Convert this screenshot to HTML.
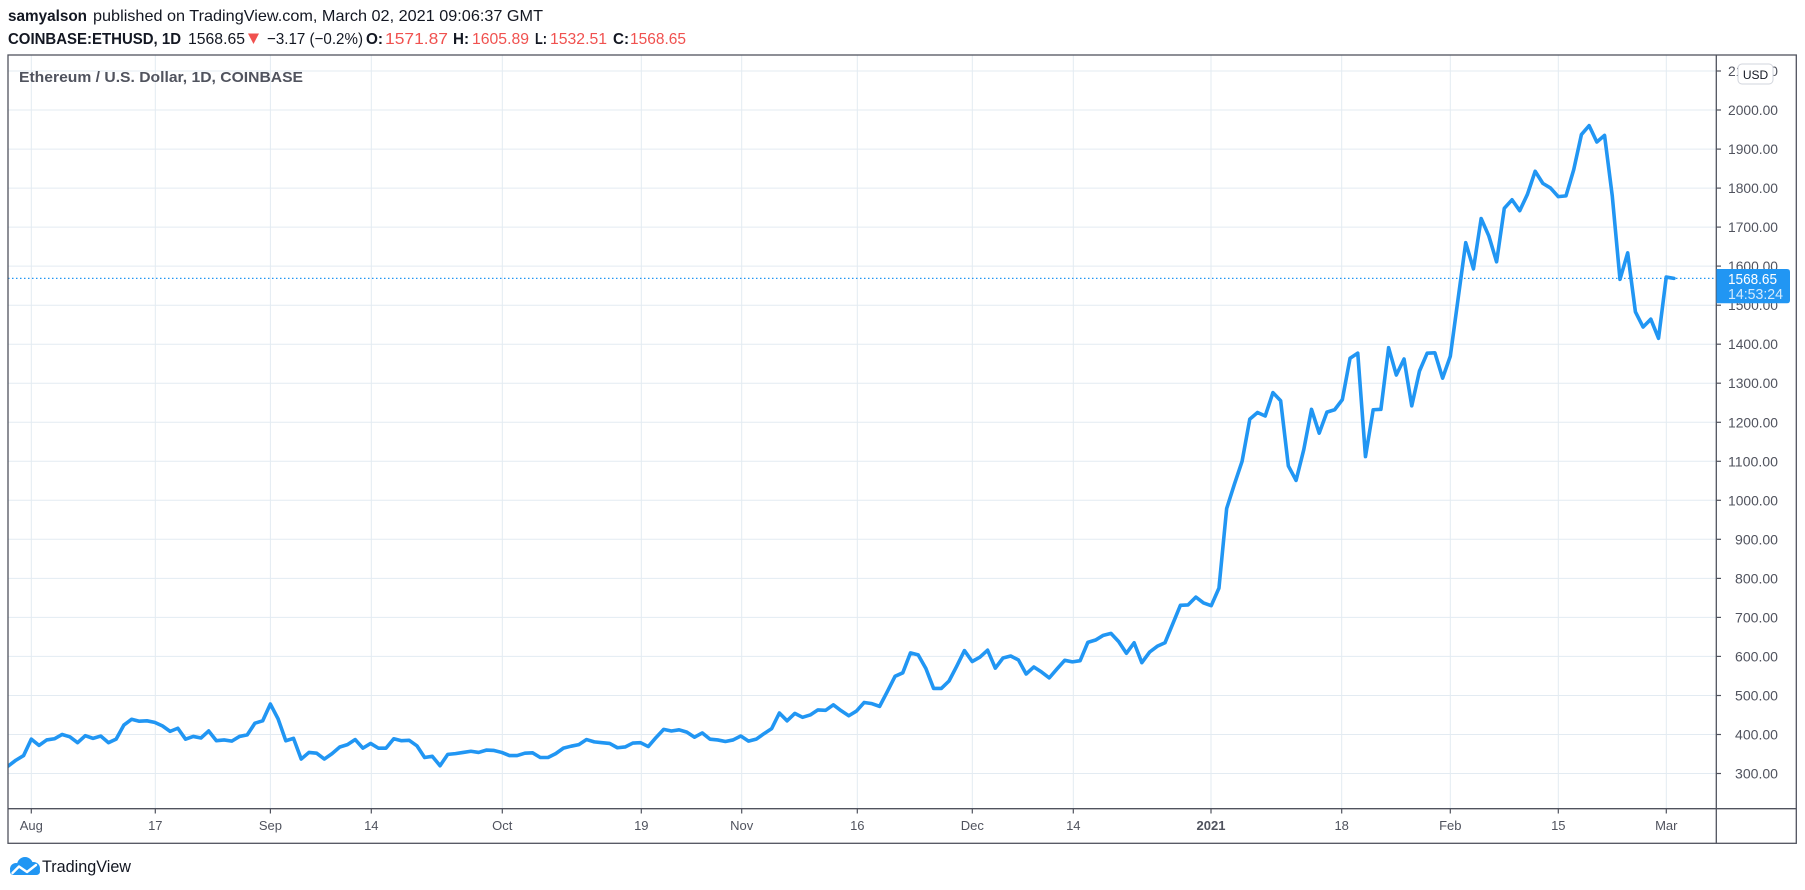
<!DOCTYPE html>
<html>
<head>
<meta charset="utf-8">
<style>
  html,body{margin:0;padding:0;background:#ffffff;}
  svg{display:block;}
  text{font-family:"Liberation Sans",sans-serif;}
</style>
</head>
<body>
<svg width="1805" height="890" viewBox="0 0 1805 890" xmlns="http://www.w3.org/2000/svg">
  <rect x="0" y="0" width="1805" height="890" fill="#ffffff"/>

  <!-- Header line 1 -->
  <text x="8" y="21" font-size="16" font-weight="bold" fill="#131722" textLength="79" lengthAdjust="spacingAndGlyphs">samyalson</text>
  <text x="93" y="21" font-size="16" fill="#131722" textLength="450" lengthAdjust="spacingAndGlyphs">published on TradingView.com, March 02, 2021 09:06:37 GMT</text>

  <!-- Header line 2 -->
  <text x="8" y="44" font-size="16" font-weight="bold" fill="#131722" textLength="173" lengthAdjust="spacingAndGlyphs">COINBASE:ETHUSD, 1D</text>
  <text x="188" y="44" font-size="16" fill="#131722" textLength="57" lengthAdjust="spacingAndGlyphs">1568.65</text>
  <polygon points="248,33.5 259,33.5 253.5,44" fill="#f0514f"/>
  <text x="267" y="44" font-size="16" fill="#131722" textLength="96" lengthAdjust="spacingAndGlyphs">−3.17 (−0.2%)</text>
  <text x="366" y="44" font-size="16" font-weight="bold" fill="#131722" textLength="17" lengthAdjust="spacingAndGlyphs">O:</text>
  <text x="385" y="44" font-size="16" fill="#f0514f" textLength="63" lengthAdjust="spacingAndGlyphs">1571.87</text>
  <text x="453" y="44" font-size="16" font-weight="bold" fill="#131722" textLength="16" lengthAdjust="spacingAndGlyphs">H:</text>
  <text x="472" y="44" font-size="16" fill="#f0514f" textLength="57" lengthAdjust="spacingAndGlyphs">1605.89</text>
  <text x="535" y="44" font-size="16" font-weight="bold" fill="#131722" textLength="12" lengthAdjust="spacingAndGlyphs">L:</text>
  <text x="550" y="44" font-size="16" fill="#f0514f" textLength="57" lengthAdjust="spacingAndGlyphs">1532.51</text>
  <text x="613" y="44" font-size="16" font-weight="bold" fill="#131722" textLength="16" lengthAdjust="spacingAndGlyphs">C:</text>
  <text x="630" y="44" font-size="16" fill="#f0514f" textLength="56" lengthAdjust="spacingAndGlyphs">1568.65</text>

  <!-- Grid: horizontal -->
  <g stroke="#e3ebf2" stroke-width="1">
    <line x1="8" x2="1716" y1="71.0" y2="71.0"/>
    <line x1="8" x2="1716" y1="110.0" y2="110.0"/>
    <line x1="8" x2="1716" y1="149.1" y2="149.1"/>
    <line x1="8" x2="1716" y1="188.1" y2="188.1"/>
    <line x1="8" x2="1716" y1="227.1" y2="227.1"/>
    <line x1="8" x2="1716" y1="266.1" y2="266.1"/>
    <line x1="8" x2="1716" y1="305.2" y2="305.2"/>
    <line x1="8" x2="1716" y1="344.2" y2="344.2"/>
    <line x1="8" x2="1716" y1="383.2" y2="383.2"/>
    <line x1="8" x2="1716" y1="422.3" y2="422.3"/>
    <line x1="8" x2="1716" y1="461.3" y2="461.3"/>
    <line x1="8" x2="1716" y1="500.3" y2="500.3"/>
    <line x1="8" x2="1716" y1="539.3" y2="539.3"/>
    <line x1="8" x2="1716" y1="578.4" y2="578.4"/>
    <line x1="8" x2="1716" y1="617.4" y2="617.4"/>
    <line x1="8" x2="1716" y1="656.4" y2="656.4"/>
    <line x1="8" x2="1716" y1="695.5" y2="695.5"/>
    <line x1="8" x2="1716" y1="734.5" y2="734.5"/>
    <line x1="8" x2="1716" y1="773.5" y2="773.5"/>
  </g>
  <!-- Grid: vertical -->
  <g stroke="#e3ebf2" stroke-width="1">
    <line x1="31.3" x2="31.3" y1="55" y2="808"/>
    <line x1="155.3" x2="155.3" y1="55" y2="808"/>
    <line x1="270.4" x2="270.4" y1="55" y2="808"/>
    <line x1="371.3" x2="371.3" y1="55" y2="808"/>
    <line x1="502.3" x2="502.3" y1="55" y2="808"/>
    <line x1="641.3" x2="641.3" y1="55" y2="808"/>
    <line x1="741.7" x2="741.7" y1="55" y2="808"/>
    <line x1="857.3" x2="857.3" y1="55" y2="808"/>
    <line x1="972.3" x2="972.3" y1="55" y2="808"/>
    <line x1="1073.3" x2="1073.3" y1="55" y2="808"/>
    <line x1="1211" x2="1211" y1="55" y2="808"/>
    <line x1="1341.7" x2="1341.7" y1="55" y2="808"/>
    <line x1="1450.3" x2="1450.3" y1="55" y2="808"/>
    <line x1="1558.3" x2="1558.3" y1="55" y2="808"/>
    <line x1="1666.3" x2="1666.3" y1="55" y2="808"/>
  </g>

  <!-- Chart title -->
  <text x="19" y="82" font-size="15" font-weight="bold" fill="#50535e" textLength="284" lengthAdjust="spacingAndGlyphs">Ethereum / U.S. Dollar, 1D, COINBASE</text>

  <!-- Dotted last price line -->
  <line x1="8" x2="1716" y1="278.4" y2="278.4" stroke="#2196f3" stroke-width="1.3" stroke-dasharray="1.5 2.5"/>

  <defs>
    <clipPath id="plot">
      <rect x="8.5" y="55.5" width="1707" height="752.5"/>
    </clipPath>
  </defs>

  <!-- Price line -->
  <g clip-path="url(#plot)">
    <polyline fill="none" stroke="#2196f3" stroke-width="3.6" stroke-linejoin="round" stroke-linecap="round" vector-effect="non-scaling-stroke"
      transform="matrix(7.712 0 0 -0.3903 31.3 890.6)"
      points="-4,317 -3,319 -2,334 -1,346 0,388 1,372 2,386 3,389 4,400 5,394 6,379 7,397 8,390 9,396 10,379 11,388 12,424 13,439 14,434 15,435 16,431 17,422 18,408 19,416 20,388 21,395 22,391 23,409 24,384 25,386 26,383 27,395 28,399 29,429 30,435 31,478 32,440 33,384 34,390 35,337 36,354 37,352 38,337 39,351 40,368 41,374 42,387 43,365 44,377 45,365 46,365 47,389 48,384 49,385 50,371 51,341 52,344 53,320 54,349 55,351 56,354 57,357 58,354 59,360 60,359 61,354 62,346 63,346 64,352 65,353 66,341 67,341 68,351 69,365 70,370 71,374 72,387 73,381 74,379 75,377 76,366 77,368 78,378 79,379 80,369 81,392 82,413 83,409 84,412 85,406 86,393 87,404 88,388 89,386 90,382 91,386 92,396 93,383 94,388 95,402 96,415 97,455 98,435 99,454 100,444 101,450 102,463 103,462 104,476 105,461 106,448 107,460 108,482 109,479 110,472 111,510 112,549 113,558 114,609 115,604 116,569 117,518 118,518 119,537 120,575 121,615 122,587 123,598 124,616 125,570 126,596 127,601 128,591 129,555 130,573 131,560 132,545 133,568 134,590 135,586 136,589 137,636 138,642 139,654 140,659 141,638 142,608 143,635 144,584 145,611 146,626 147,635 148,683 149,731 150,732 151,752 152,737 153,730 154,775 155,979 156,1041 157,1100 158,1208 159,1225 160,1216 161,1276 162,1255 163,1088 164,1051 165,1130 166,1233 167,1172 168,1226 169,1232 170,1258 171,1364 172,1377 173,1112 174,1232 175,1233 176,1391 177,1321 178,1362 179,1242 180,1331 181,1377 182,1378 183,1313 184,1369 185,1515 186,1660 187,1593 188,1722 189,1677 190,1611 191,1748 192,1770 193,1742 194,1784 195,1843 196,1812 197,1800 198,1778 199,1780 200,1847 201,1937 202,1960 203,1918 204,1935 205,1780 206,1566 207,1634 208,1483 209,1444 210,1464 211,1415 212,1572 213,1568.65"/>
  </g>

  <!-- Frame -->
  <g stroke="#50535e" stroke-width="1.3" fill="none">
    <rect x="8" y="55" width="1788.3" height="788.3"/>
    <line x1="1716.3" x2="1716.3" y1="55" y2="843.3"/>
    <line x1="8" x2="1796.3" y1="808.7" y2="808.7"/>
  </g>

  <!-- Price axis ticks -->
  <g stroke="#50535e" stroke-width="1.2">
    <line x1="1716" x2="1721" y1="71.0" y2="71.0"/>
    <line x1="1716" x2="1721" y1="110.0" y2="110.0"/>
    <line x1="1716" x2="1721" y1="149.1" y2="149.1"/>
    <line x1="1716" x2="1721" y1="188.1" y2="188.1"/>
    <line x1="1716" x2="1721" y1="227.1" y2="227.1"/>
    <line x1="1716" x2="1721" y1="266.1" y2="266.1"/>
    <line x1="1716" x2="1721" y1="305.2" y2="305.2"/>
    <line x1="1716" x2="1721" y1="344.2" y2="344.2"/>
    <line x1="1716" x2="1721" y1="383.2" y2="383.2"/>
    <line x1="1716" x2="1721" y1="422.3" y2="422.3"/>
    <line x1="1716" x2="1721" y1="461.3" y2="461.3"/>
    <line x1="1716" x2="1721" y1="500.3" y2="500.3"/>
    <line x1="1716" x2="1721" y1="539.3" y2="539.3"/>
    <line x1="1716" x2="1721" y1="578.4" y2="578.4"/>
    <line x1="1716" x2="1721" y1="617.4" y2="617.4"/>
    <line x1="1716" x2="1721" y1="656.4" y2="656.4"/>
    <line x1="1716" x2="1721" y1="695.5" y2="695.5"/>
    <line x1="1716" x2="1721" y1="734.5" y2="734.5"/>
    <line x1="1716" x2="1721" y1="773.5" y2="773.5"/>
  </g>

  <!-- Price axis labels -->
  <g font-size="13.5" fill="#50535e">
    <text x="1728" y="76.0" textLength="50" lengthAdjust="spacingAndGlyphs">2100.00</text>
    <text x="1728" y="115.0" textLength="50" lengthAdjust="spacingAndGlyphs">2000.00</text>
    <text x="1728" y="154.1" textLength="50" lengthAdjust="spacingAndGlyphs">1900.00</text>
    <text x="1728" y="193.1" textLength="50" lengthAdjust="spacingAndGlyphs">1800.00</text>
    <text x="1728" y="232.1" textLength="50" lengthAdjust="spacingAndGlyphs">1700.00</text>
    <text x="1728" y="271.1" textLength="50" lengthAdjust="spacingAndGlyphs">1600.00</text>
    <text x="1728" y="310.2" textLength="50" lengthAdjust="spacingAndGlyphs">1500.00</text>
    <text x="1728" y="349.2" textLength="50" lengthAdjust="spacingAndGlyphs">1400.00</text>
    <text x="1728" y="388.2" textLength="50" lengthAdjust="spacingAndGlyphs">1300.00</text>
    <text x="1728" y="427.3" textLength="50" lengthAdjust="spacingAndGlyphs">1200.00</text>
    <text x="1728" y="466.3" textLength="50" lengthAdjust="spacingAndGlyphs">1100.00</text>
    <text x="1728" y="505.3" textLength="50" lengthAdjust="spacingAndGlyphs">1000.00</text>
    <text x="1735" y="544.3" textLength="43" lengthAdjust="spacingAndGlyphs">900.00</text>
    <text x="1735" y="583.4" textLength="43" lengthAdjust="spacingAndGlyphs">800.00</text>
    <text x="1735" y="622.4" textLength="43" lengthAdjust="spacingAndGlyphs">700.00</text>
    <text x="1735" y="661.4" textLength="43" lengthAdjust="spacingAndGlyphs">600.00</text>
    <text x="1735" y="700.5" textLength="43" lengthAdjust="spacingAndGlyphs">500.00</text>
    <text x="1735" y="739.5" textLength="43" lengthAdjust="spacingAndGlyphs">400.00</text>
    <text x="1735" y="778.5" textLength="43" lengthAdjust="spacingAndGlyphs">300.00</text>
  </g>

  <!-- USD badge -->
  <rect x="1738" y="64" width="35" height="20" rx="4" ry="4" fill="#ffffff" stroke="#d1d4dc" stroke-width="1"/>
  <text x="1755.5" y="79" font-size="12" fill="#131722" text-anchor="middle">USD</text>

  <!-- Last price box -->
  <path d="M1716.5,269 H1787 Q1790,269 1790,272 V300.3 Q1790,303.3 1787,303.3 H1716.5 Z" fill="#2196f3"/>
  <text x="1728" y="284" font-size="14.5" fill="#ffffff" textLength="49" lengthAdjust="spacingAndGlyphs">1568.65</text>
  <text x="1728" y="299" font-size="14.5" fill="#ffffff" fill-opacity="0.8" textLength="55" lengthAdjust="spacingAndGlyphs">14:53:24</text>

  <!-- Time axis ticks -->
  <g stroke="#50535e" stroke-width="1.2">
    <line x1="31.3" x2="31.3" y1="808.7" y2="813.5"/>
    <line x1="155.3" x2="155.3" y1="808.7" y2="813.5"/>
    <line x1="270.4" x2="270.4" y1="808.7" y2="813.5"/>
    <line x1="371.3" x2="371.3" y1="808.7" y2="813.5"/>
    <line x1="502.3" x2="502.3" y1="808.7" y2="813.5"/>
    <line x1="641.3" x2="641.3" y1="808.7" y2="813.5"/>
    <line x1="741.7" x2="741.7" y1="808.7" y2="813.5"/>
    <line x1="857.3" x2="857.3" y1="808.7" y2="813.5"/>
    <line x1="972.3" x2="972.3" y1="808.7" y2="813.5"/>
    <line x1="1073.3" x2="1073.3" y1="808.7" y2="813.5"/>
    <line x1="1211" x2="1211" y1="808.7" y2="813.5"/>
    <line x1="1341.7" x2="1341.7" y1="808.7" y2="813.5"/>
    <line x1="1450.3" x2="1450.3" y1="808.7" y2="813.5"/>
    <line x1="1558.3" x2="1558.3" y1="808.7" y2="813.5"/>
    <line x1="1666.3" x2="1666.3" y1="808.7" y2="813.5"/>
  </g>

  <!-- Time axis labels -->
  <g font-size="13" fill="#50535e" text-anchor="middle">
    <text x="31.3" y="830">Aug</text>
    <text x="155.3" y="830">17</text>
    <text x="270.4" y="830">Sep</text>
    <text x="371.3" y="830">14</text>
    <text x="502.3" y="830">Oct</text>
    <text x="641.3" y="830">19</text>
    <text x="741.7" y="830">Nov</text>
    <text x="857.3" y="830">16</text>
    <text x="972.3" y="830">Dec</text>
    <text x="1073.3" y="830">14</text>
    <text x="1211" y="830" font-weight="bold">2021</text>
    <text x="1341.7" y="830">18</text>
    <text x="1450.3" y="830">Feb</text>
    <text x="1558.3" y="830">15</text>
    <text x="1666.3" y="830">Mar</text>
  </g>

  <!-- TradingView logo -->
  <g>
    <circle cx="16" cy="869" r="6" fill="#2196f3"/>
    <circle cx="25" cy="865" r="8" fill="#2196f3"/>
    <circle cx="33.5" cy="868.5" r="6.5" fill="#2196f3"/>
    <rect x="10" y="868" width="30" height="7" rx="3.5" fill="#2196f3"/>
    <polyline points="12.5,873 19,866.5 27,872 36,865" fill="none" stroke="#ffffff" stroke-width="2.4" stroke-linejoin="round" stroke-linecap="round"/>
  </g>
  <text x="42" y="872" font-size="17" fill="#131722" textLength="89" lengthAdjust="spacingAndGlyphs">TradingView</text>
</svg>
</body>
</html>
